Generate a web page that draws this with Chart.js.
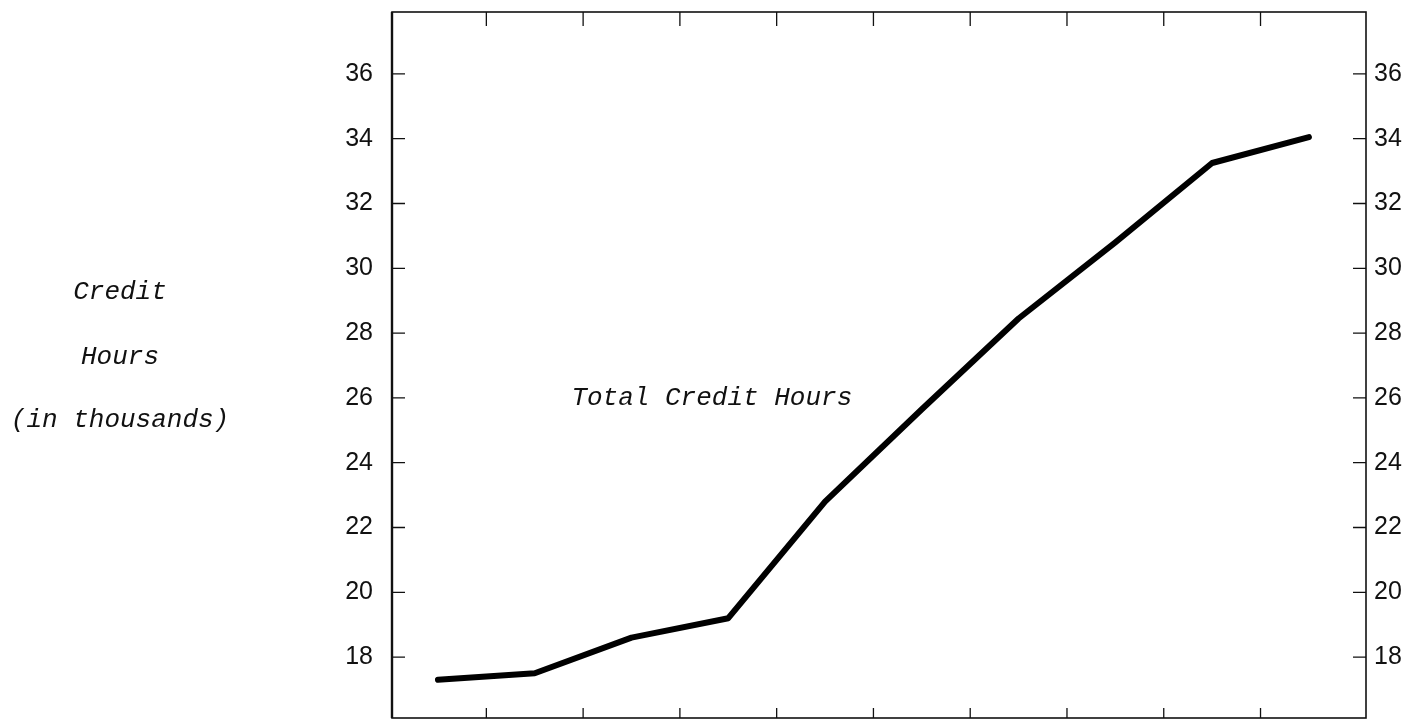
<!DOCTYPE html>
<html>
<head>
<meta charset="utf-8">
<script src="https://cdn.jsdelivr.net/npm/chart.js@4"></script>
<style>
  html, body { margin: 0; padding: 0; background: #fff; }
  #wrap { position: relative; width: 1405px; height: 721px; }
  .side {
    position: absolute; left: 0; width: 240px; text-align: center;
    font: italic 26px "Liberation Mono", "DejaVu Sans Mono", monospace;
    color: #111; line-height: 30px;
  }
</style>
</head>
<body>
<div id="wrap">
  <canvas id="chart"></canvas>
  <div class="side" style="top:277px">Credit</div>
  <div class="side" style="top:342px">Hours</div>
  <div class="side" style="top:405px">(in thousands)</div>
</div>
<script>
// Data
const periods = ["1", "2", "3", "4", "5", "6", "7", "8", "9", "10"];
const creditHours = [17.3, 17.5, 18.6, 19.2, 22.8, 25.65, 28.45, 30.8, 33.25, 34.05];
const yTicks = [18, 20, 22, 24, 26, 28, 30, 32, 34, 36];
const seriesLabel = "Total Credit Hours";

// Frame + inward tick marks + in-chart label
const framePlugin = {
  id: "frame",
  afterDatasetsDraw(chart) {
    const { ctx, chartArea: a, scales } = chart;
    ctx.save();
    ctx.strokeStyle = "#111";
    ctx.lineWidth = 1.6;
    ctx.strokeRect(a.left, a.top, a.right - a.left, a.bottom - a.top);
    // left edge is a bit heavier in the original
    ctx.lineWidth = 2.4;
    ctx.beginPath();
    ctx.moveTo(a.left, a.top); ctx.lineTo(a.left, a.bottom);
    ctx.stroke();

    ctx.lineWidth = 1.3;
    ctx.beginPath();
    yTicks.forEach((v) => {
      const y = scales.y.getPixelForValue(v);
      ctx.moveTo(a.left, y); ctx.lineTo(a.left + 13, y);
      ctx.moveTo(a.right, y); ctx.lineTo(a.right - 13, y);
    });
    // x ticks sit between the periods
    for (let i = 0; i < periods.length - 1; i++) {
      const x = scales.x.getPixelForValue(i + 0.5);
      ctx.moveTo(x, a.top); ctx.lineTo(x, a.top + 14);
      ctx.moveTo(x, a.bottom); ctx.lineTo(x, a.bottom - 10);
    }
    ctx.stroke();

    ctx.fillStyle = "#111";
    ctx.font = 'italic 26px "Liberation Mono", "DejaVu Sans Mono", monospace';
    ctx.textAlign = "center";
    ctx.textBaseline = "middle";
    ctx.fillText(seriesLabel, scales.x.getPixelForValue(2.83), scales.y.getPixelForValue(26.0));
    ctx.restore();
  },
};

const tickFont = { family: '"Liberation Sans", Arial, sans-serif', size: 25 };

function noPad(axis) {
  axis.paddingTop = 0;
  axis.paddingBottom = 0;
  axis.paddingLeft = 0;
  axis.paddingRight = 0;
}

new Chart(document.getElementById("chart"), {
  type: "line",
  data: {
    labels: periods,
    datasets: [{
      label: seriesLabel,
      data: creditHours.map((v, i) => ({ x: i, y: v })),
      borderColor: "#000",
      borderWidth: 6,
      borderCapStyle: "round",
      borderJoinStyle: "round",
      pointRadius: 0,
      tension: 0,
      fill: false,
    }],
  },
  options: {
    responsive: true,
    maintainAspectRatio: false,
    animation: false,
    layout: { padding: { top: 12, left: 0, right: 0, bottom: 0 } },
    plugins: { legend: { display: false }, tooltip: { enabled: false } },
    scales: {
      x: {
        type: "linear",
        min: -0.475,
        max: 9.59,
        grid: { display: false },
        border: { display: false },
        ticks: { display: false },
        afterFit: (axis) => { axis.height = 3; noPad(axis); },
      },
      y: {
        position: "left",
        min: 16.12,
        max: 37.91,
        afterBuildTicks: (axis) => { axis.ticks = yTicks.map((v) => ({ value: v })); },
        afterFit: (axis) => { axis.width = 392; noPad(axis); },
        grid: { display: false },
        border: { display: false },
        ticks: { color: "#111", font: tickFont, padding: 11 },
      },
      y2: {
        position: "right",
        min: 16.12,
        max: 37.91,
        afterBuildTicks: (axis) => { axis.ticks = yTicks.map((v) => ({ value: v })); },
        afterFit: (axis) => { axis.width = 39; noPad(axis); },
        grid: { display: false },
        border: { display: false },
        ticks: { color: "#111", font: tickFont, padding: 0 },
      },
    },
  },
  plugins: [framePlugin],
});
</script>
</body>
</html>
